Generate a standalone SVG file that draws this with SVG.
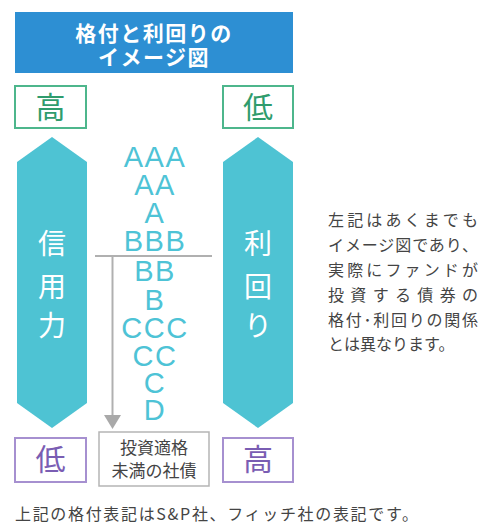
<svg xmlns="http://www.w3.org/2000/svg" width="485" height="525" viewBox="0 0 485 525">
<style>
.jp{font-family:"Noto Sans CJK JP","Noto Sans",sans-serif}
.rate{font-family:"Liberation Sans","Noto Sans",sans-serif;font-size:29px;fill:#4ec3d6;text-anchor:middle;letter-spacing:1.5px}
.band{fill:#4ec3d3}
.bandtxt{font-family:"Noto Sans CJK JP",sans-serif;font-size:28px;fill:#ffffff;text-anchor:middle}
.gbox{fill:#fff;stroke:#4db68c;stroke-width:2}
.gtxt{font-family:"Noto Sans CJK JP",sans-serif;font-size:30px;fill:#2f9c6d;text-anchor:middle}
.pbox{fill:#fff;stroke:#a690d0;stroke-width:2}
.ptxt{font-family:"Noto Sans CJK JP",sans-serif;font-size:30px;fill:#7a5db3;text-anchor:middle}
.note{font-family:"Noto Sans CJK JP",sans-serif;font-size:16px;fill:#444}
</style>

<g id="title">
<rect x="15" y="12" width="278" height="61" fill="#2d8fd3"/>
<text class="jp" x="154" y="41" font-size="21" font-weight="700" fill="#fff" text-anchor="middle" letter-spacing="1.5">格付と利回りの</text>
<text class="jp" x="154" y="65" font-size="21" font-weight="700" fill="#fff" text-anchor="middle" letter-spacing="1.5">イメージ図</text>
</g>

<g id="top-high">
<rect class="gbox" x="15" y="86" width="71" height="42"/>
<text class="gtxt" x="50.5" y="118">高</text>
</g>
<g id="top-low">
<rect class="gbox" x="223" y="86" width="70" height="42"/>
<text class="gtxt" x="258" y="118">低</text>
</g>

<g id="credit-band">
<polygon class="band" points="52,137 87,162 87,403 52,428 17,403 17,162"/>
<text class="bandtxt" x="52" y="254">信</text>
<text class="bandtxt" x="52" y="297">用</text>
<text class="bandtxt" x="52" y="336">力</text>
</g>
<g id="yield-band">
<polygon class="band" points="258,137 293,162 293,403 258,428 223,403 223,162"/>
<text class="bandtxt" x="258" y="254">利</text>
<text class="bandtxt" x="258" y="297">回</text>
<text class="bandtxt" x="258" y="336">り</text>
</g>

<g id="ratings">
<text class="rate" x="155" y="167">AAA</text>
<text class="rate" x="155" y="195">AA</text>
<text class="rate" x="155" y="223">A</text>
<text class="rate" x="155" y="251">BBB</text>
<text class="rate" x="155" y="281">BB</text>
<text class="rate" x="155" y="310">B</text>
<text class="rate" x="155" y="338">CCC</text>
<text class="rate" x="155" y="366">CC</text>
<text class="rate" x="155" y="393">C</text>
<text class="rate" x="155" y="420">D</text>
</g>

<g id="connectors">
<line x1="95" y1="256" x2="212" y2="256" stroke="#b0b0b0" stroke-width="2"/>
<line x1="112.5" y1="256" x2="112.5" y2="416" stroke="#b0b0b0" stroke-width="2"/>
<polygon points="104,415 121,415 112.5,429" fill="#a9a9a9"/>
</g>

<g id="junk-box">
<rect x="99" y="432" width="110" height="54" fill="#fff" stroke="#b5b5b5" stroke-width="1.5"/>
<text class="jp" x="154" y="454" font-size="17" fill="#444" text-anchor="middle">投資適格</text>
<text class="jp" x="154" y="477" font-size="17" fill="#444" text-anchor="middle">未満の社債</text>
</g>

<g id="bottom-low">
<rect class="pbox" x="15" y="438" width="71" height="44"/>
<text class="ptxt" x="50.5" y="470">低</text>
</g>
<g id="bottom-high">
<rect class="pbox" x="223" y="438" width="70" height="44"/>
<text class="ptxt" x="258" y="470">高</text>
</g>

<g id="note">
<text class="note" x="328" y="226" textLength="150" lengthAdjust="spacing">左記はあくまでも</text>
<text class="note" x="328" y="251" textLength="150" lengthAdjust="spacing">イメージ図であり、</text>
<text class="note" x="328" y="276" textLength="150" lengthAdjust="spacing">実際にファンドが</text>
<text class="note" x="328" y="301" textLength="150" lengthAdjust="spacing">投資する債券の</text>
<text class="note" x="328" y="326" textLength="150" lengthAdjust="spacing">格付･利回りの関係</text>
<text class="note" x="328" y="350">とは異なります。</text>
</g>

<g id="footer">
<text class="note" x="15" y="520" textLength="403" lengthAdjust="spacing">上記の格付表記はS&amp;P社、フィッチ社の表記です。</text>
</g>
</svg>
